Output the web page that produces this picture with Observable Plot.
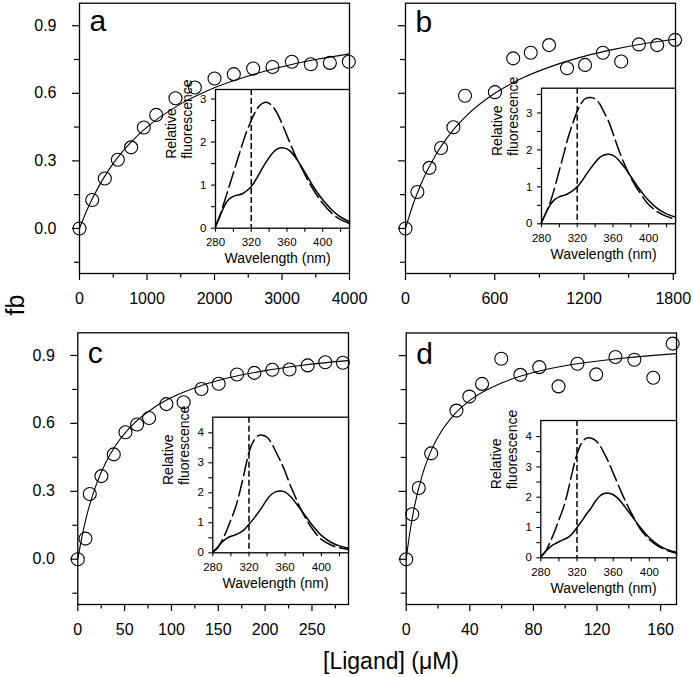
<!DOCTYPE html>
<html>
<head>
<meta charset="utf-8">
<script src="https://cdn.jsdelivr.net/npm/d3@7"></script>
<script src="https://cdn.jsdelivr.net/npm/@observablehq/plot@0.6"></script>
<style>
  html, body { margin: 0; padding: 0; background: white; }
  #chart { position: relative; width: 693px; height: 677px; background: white; font-family: "Liberation Sans", Arial, sans-serif; overflow: hidden; }
  #chart svg { position: absolute; max-width: none; overflow: visible; }
  .lbl { position: absolute; color: black; white-space: nowrap; line-height: 1; }
</style>
</head>
<body>
<div id="chart"></div>
<script>
// ---------- shared axes ----------
const yMajor = [0, 0.3, 0.6, 0.9];
const yMinor = [-0.15, 0.15, 0.45, 0.75];
const wlMajor = [280, 320, 360, 400];
const wlMinor = [300, 340, 380, 420];
const excitation = [320];
const wl = [280,285,290,295,300,305,310,315,320,325,330,335,340,345,350,355,360,365,370,375,380,385,390,395,400,410,420,430];

// ---------- panel a ----------
const aLigand = [0,188,375,568,765,953,1136,1422,1709,2000,2286,2573,2859,3146,3427,3709,3990];
const aFb = [0,0.126,0.222,0.305,0.36,0.448,0.504,0.578,0.626,0.666,0.685,0.71,0.717,0.74,0.729,0.735,0.74];
const aFitLigand = [0,100,200,350,500,750,1000,1500,2000,2500,3000,3500,4000];
const aFitFb = [0,0.074,0.138,0.22,0.289,0.379,0.45,0.553,0.625,0.677,0.718,0.75,0.775];
const aXMajor = [0,1000,2000,3000,4000];
const aXMinor = [500,1500,2500,3500];
const aSolid = [0.05,0.28,0.52,0.67,0.74,0.77,0.8,0.87,0.97,1.12,1.3,1.48,1.64,1.77,1.85,1.87,1.84,1.76,1.63,1.47,1.3,1.12,0.95,0.8,0.66,0.43,0.26,0.15];
const aDashed = [0.03,0.3,0.62,0.95,1.28,1.62,1.95,2.25,2.5,2.72,2.86,2.92,2.9,2.8,2.63,2.4,2.15,1.9,1.66,1.45,1.25,1.05,0.88,0.72,0.58,0.35,0.2,0.11];
const aInsetYMajor = [0,1,2,3];
const aInsetYMinor = [0.5,1.5,2.5];

// ---------- panel b ----------
const bLigand = [0,80,161,239,322,400,601,724,842,965,1086,1207,1327,1450,1569,1692,1812];
const bFb = [0,0.162,0.269,0.357,0.449,0.589,0.605,0.755,0.78,0.814,0.711,0.726,0.78,0.741,0.817,0.814,0.837];
const bFitLigand = [0,50,100,200,300,400,600,800,1000,1200,1400,1600,1812];
const bFitFb = [0,0.105,0.191,0.323,0.42,0.494,0.6,0.672,0.724,0.764,0.795,0.82,0.84];
const bXMajor = [0,600,1200,1800];
const bXMinor = [300,900,1500];
const bSolid = [0.05,0.3,0.52,0.66,0.73,0.77,0.82,0.9,1.0,1.15,1.33,1.5,1.66,1.79,1.86,1.88,1.85,1.76,1.62,1.46,1.28,1.1,0.93,0.77,0.63,0.41,0.27,0.18];
const bDashed = [0.03,0.3,0.6,1.0,1.45,1.9,2.35,2.72,3.05,3.28,3.4,3.42,3.38,3.25,3.02,2.78,2.45,2.1,1.78,1.5,1.25,1.03,0.85,0.67,0.52,0.32,0.2,0.12];
const bInsetYMajor = [0,1,2,3];
const bInsetYMinor = [0.5,1.5,2.5,3.5];

// ---------- panel c ----------
const cLigand = [0,8.2,12.8,25.2,38.4,50.9,63.3,76.1,94.6,113,132,150.4,170,188.5,207.7,226,245.4,264.2,283];
const cFb = [0,0.091,0.288,0.367,0.463,0.561,0.595,0.624,0.685,0.693,0.752,0.775,0.816,0.823,0.837,0.838,0.856,0.87,0.868];
const cFitLigand = [0,5,10,20,30,40,60,80,100,130,160,200,240,288];
const cFitFb = [0,0.111,0.2,0.333,0.428,0.5,0.6,0.666,0.714,0.764,0.8,0.833,0.857,0.877];
const cXMajor = [0,50,100,150,200,250];
const cXMinor = [25,75,125,175,225,275];
const cSolid = [0.03,0.18,0.35,0.47,0.55,0.6,0.67,0.78,0.95,1.13,1.33,1.55,1.78,1.95,2.04,2.06,2.02,1.9,1.73,1.53,1.33,1.12,0.92,0.74,0.58,0.36,0.23,0.15];
const cDashed = [0.02,0.15,0.4,0.72,1.1,1.5,2.05,2.7,3.35,3.72,3.9,3.92,3.85,3.65,3.35,3.05,2.7,2.3,1.95,1.6,1.3,1.03,0.8,0.6,0.45,0.27,0.17,0.11];
const cInsetYMajor = [0,1,2,3,4];
const cInsetYMinor = [0.5,1.5,2.5,3.5];

// ---------- panel d ----------
const dLigand = [0,3.8,7.9,15.7,31.6,39.7,47.7,59.8,71.8,83.7,95.8,107.7,119.5,131.6,143.5,155.4,167.6];
const dFb = [0,0.199,0.315,0.468,0.657,0.719,0.775,0.886,0.815,0.849,0.764,0.864,0.817,0.894,0.882,0.802,0.953];
const dFitLigand = [0,2,5,10,15,20,30,40,60,80,100,130,170];
const dFitFb = [0,0.105,0.227,0.37,0.469,0.54,0.638,0.702,0.779,0.825,0.855,0.884,0.909];
const dXMajor = [0,40,80,120,160];
const dXMinor = [20,60,100,140];
const dSolid = [0.05,0.2,0.35,0.45,0.53,0.6,0.67,0.8,1.0,1.2,1.42,1.62,1.85,2.03,2.12,2.13,2.08,1.97,1.8,1.6,1.4,1.2,1.0,0.82,0.66,0.42,0.27,0.18];
const dDashed = [0.03,0.2,0.5,0.85,1.25,1.65,2.2,2.85,3.42,3.78,3.94,3.95,3.88,3.72,3.45,3.15,2.8,2.45,2.1,1.78,1.48,1.2,0.95,0.76,0.6,0.38,0.24,0.15];
const dInsetYMajor = [0,1,2,3,4];
const dInsetYMinor = [0.5,1.5,2.5,3.5];

const FONT = "'Liberation Sans', Arial, Helvetica, sans-serif";
const chart = document.getElementById("chart");
const intFmt = d3.format("d");
const none = () => "";

function place(svg, left, top) {
  svg.style.left = left + "px";
  svg.style.top = top + "px";
  chart.appendChild(svg);
}

function mainPanel(o) {
  const pts = o.x.map((v, i) => ({x: v, y: o.y[i]}));
  const fit = o.fitX.map((v, i) => ({x: v, y: o.fitY[i]}));
  const svg = Plot.plot({
    width: o.width, height: o.height,
    marginLeft: o.m[0], marginRight: o.m[1], marginTop: o.m[2], marginBottom: o.m[3],
    style: {fontFamily: FONT, fontSize: "16px", color: "black", background: "transparent", overflow: "visible"},
    x: {domain: o.xDomain},
    y: {domain: [-0.2, 1.0]},
    marks: [
      Plot.axisX({ticks: o.xMajor, tickSize: 7, tickPadding: 12, label: null, strokeWidth: 1.2, tickFormat: intFmt}),
      Plot.axisX({ticks: o.xMinor, tickSize: 4.5, tickFormat: none, label: null, strokeWidth: 1.2}),
      Plot.axisY({ticks: yMajor, tickSize: 7, tickPadding: 16, label: null, strokeWidth: 1.2,
                  tickFormat: o.showY ? d3.format(".1f") : none}),
      Plot.axisY({ticks: yMinor, tickSize: 5, tickFormat: none, label: null, strokeWidth: 1.2}),
      Plot.frame({stroke: "black", strokeWidth: 1.3}),
      Plot.line(fit, {x: "x", y: "y", curve: "monotone-x", stroke: "black", strokeWidth: 1.1}),
      Plot.dot(pts, {x: "x", y: "y", r: 6.5, stroke: "black", strokeWidth: 1.1, fill: "none"}),
      Plot.text([o.label], {frameAnchor: "top-left", textAnchor: "start", lineAnchor: "top",
                            dx: 10, dy: o.labelDy, fontSize: 30, fill: "black"})
    ]
  });
  place(svg, o.left, o.top);
}

function insetPanel(o) {
  const solid = wl.map((w, i) => ({w, v: o.solid[i]}));
  const dashed = wl.map((w, i) => ({w, v: o.dashed[i]}));
  const svg = Plot.plot({
    width: o.width, height: o.height,
    marginLeft: o.m[0], marginRight: o.m[1], marginTop: o.m[2], marginBottom: o.m[3],
    style: {fontFamily: FONT, fontSize: "11.5px", color: "black", background: "transparent", overflow: "visible"},
    x: {domain: [280, 430]},
    y: {domain: [0, o.yMax]},
    marks: [
      Plot.frame({fill: "white", stroke: "none"}),
      Plot.axisX({ticks: wlMajor, tickSize: 4, tickPadding: 6, label: null, strokeWidth: 1.1, tickFormat: intFmt}),
      Plot.axisX({ticks: wlMinor, tickSize: 4, tickFormat: none, label: null, strokeWidth: 1.1}),
      Plot.axisY({ticks: o.yMajor, tickSize: 4, tickPadding: 5, label: null, strokeWidth: 1.1, tickFormat: intFmt}),
      Plot.axisY({ticks: o.yMinor, tickSize: 4, tickFormat: none, label: null, strokeWidth: 1.1}),
      Plot.ruleX(excitation, {stroke: "black", strokeWidth: 1.5, strokeDasharray: "6,3"}),
      Plot.line(dashed, {x: "w", y: "v", curve: "natural", stroke: "black", strokeWidth: 1.5, strokeDasharray: "16,5"}),
      Plot.line(solid, {x: "w", y: "v", curve: "natural", stroke: "black", strokeWidth: 1.5}),
      Plot.frame({stroke: "black", strokeWidth: 1.3}),
      Plot.text(["Relative\nfluorescence"], {frameAnchor: "left", rotate: -90, dx: -37, fontSize: 14, lineHeight: 1.15, fill: "black"}),
      Plot.text(["Wavelength (nm)"], {frameAnchor: "bottom", dx: -5, dy: 35, fontSize: 14, fill: "black"})
    ]
  });
  place(svg, o.left, o.top);
}

// main panels
mainPanel({x: aLigand, y: aFb, fitX: aFitLigand, fitY: aFitFb, xDomain: [0, 4000], xMajor: aXMajor, xMinor: aXMinor,
  label: "a", showY: true, left: 0, top: 0, width: 360, height: 330, m: [79, 11, 2.7, 57], labelDy: 6});
mainPanel({x: bLigand, y: bFb, fitX: bFitLigand, fitY: bFitFb, xDomain: [0, 1815], xMajor: bXMajor, xMinor: bXMinor,
  label: "b", showY: false, left: 340, top: 0, width: 353, height: 330, m: [65, 18, 2.7, 57], labelDy: 7});
mainPanel({x: cLigand, y: cFb, fitX: cFitLigand, fitY: cFitFb, xDomain: [0, 289], xMajor: cXMajor, xMinor: cXMinor,
  label: "c", showY: true, left: 0, top: 320, width: 360, height: 357, m: [77.3, 12, 12.3, 73], labelDy: 9});
mainPanel({x: dLigand, y: dFb, fitX: dFitLigand, fitY: dFitFb, xDomain: [0, 170], xMajor: dXMajor, xMinor: dXMinor,
  label: "d", showY: false, left: 340, top: 320, width: 353, height: 357, m: [65.7, 17, 12.5, 73], labelDy: 10});

// insets
insetPanel({solid: aSolid, dashed: aDashed, yMax: 3.22, yMajor: aInsetYMajor, yMinor: aInsetYMinor,
  left: 140, top: 70, width: 212, height: 210, m: [75, 3, 19, 52.3]});
insetPanel({solid: bSolid, dashed: bDashed, yMax: 3.67, yMajor: bInsetYMajor, yMinor: bInsetYMinor,
  left: 466, top: 68, width: 212, height: 210, m: [75, 3, 19.7, 54.7]});
insetPanel({solid: cSolid, dashed: cDashed, yMax: 4.52, yMajor: cInsetYMajor, yMinor: cInsetYMinor,
  left: 137, top: 397, width: 214, height: 210, m: [75.3, 3, 19.7, 54.7]});
insetPanel({solid: dSolid, dashed: dDashed, yMax: 4.53, yMajor: dInsetYMajor, yMinor: dInsetYMinor,
  left: 465, top: 400, width: 214, height: 210, m: [75.3, 3, 20, 52.7]});

// shared axis titles
const yTitle = document.createElement("div");
yTitle.className = "lbl";
yTitle.textContent = "fb";
yTitle.style.fontSize = "25px";
yTitle.style.left = "15px";
yTitle.style.top = "305px";
yTitle.style.transform = "translate(-50%, -50%) rotate(-90deg)";
chart.appendChild(yTitle);

const xTitle = document.createElement("div");
xTitle.className = "lbl";
xTitle.textContent = "[Ligand] (\u03bcM)";
xTitle.style.fontSize = "23px";
xTitle.style.left = "391px";
xTitle.style.top = "650px";
xTitle.style.transform = "translateX(-50%)";
chart.appendChild(xTitle);
</script>
</body>
</html>
